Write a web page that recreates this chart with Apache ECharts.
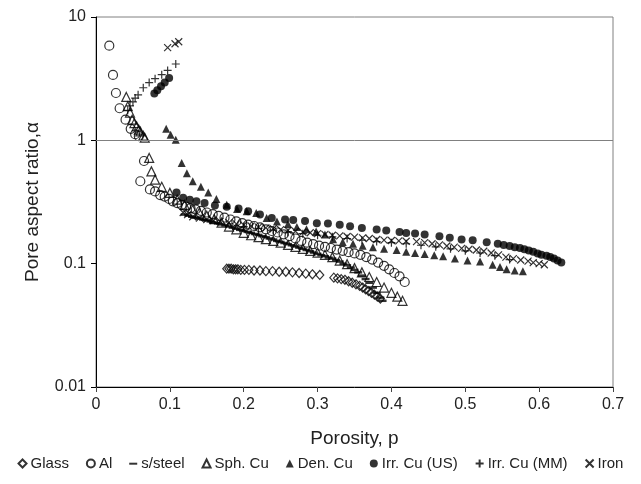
<!DOCTYPE html>
<html>
<head>
<meta charset="utf-8">
<script src="https://cdn.jsdelivr.net/npm/echarts@6/dist/echarts.min.js"></script>
<style>
  html, body { margin: 0; padding: 0; background: #fff; }
  #chart { width: 641px; height: 484px; }
</style>
</head>
<body>
<div id="chart"></div>
<script>
// porosity p, pore aspect ratio alpha
const glass = [
  [0.177, 0.091], [0.180, 0.091], [0.183, 0.091], [0.186, 0.090], [0.189, 0.090], [0.192, 0.090],
  [0.196, 0.089], [0.201, 0.089], [0.207, 0.089], [0.214, 0.088], [0.222, 0.088], [0.230, 0.087],
  [0.239, 0.087], [0.248, 0.086], [0.257, 0.086], [0.266, 0.085], [0.275, 0.084], [0.284, 0.083],
  [0.293, 0.082], [0.303, 0.081],
  [0.322, 0.077], [0.327, 0.076], [0.332, 0.075], [0.337, 0.074], [0.342, 0.072], [0.347, 0.070],
  [0.352, 0.068], [0.357, 0.066], [0.361, 0.064], [0.365, 0.062], [0.369, 0.060], [0.373, 0.058],
  [0.377, 0.056], [0.381, 0.054], [0.385, 0.052]
]
const al = [
  [0.018, 5.85], [0.023, 3.39], [0.027, 2.42], [0.032, 1.82], [0.040, 1.47], [0.047, 1.24],
  [0.053, 1.12], [0.058, 1.08], [0.065, 0.68],
  [0.060, 0.466], [0.073, 0.40], [0.080, 0.385], [0.087, 0.36], [0.093, 0.35], [0.099, 0.335],
  [0.104, 0.32], [0.110, 0.31], [0.116, 0.30], [0.122, 0.29], [0.128, 0.282], [0.135, 0.275],
  [0.142, 0.268], [0.150, 0.26], [0.158, 0.252], [0.166, 0.244], [0.174, 0.236], [0.182, 0.228],
  [0.190, 0.22], [0.198, 0.213], [0.206, 0.207], [0.214, 0.202], [0.222, 0.197], [0.230, 0.19],
  [0.238, 0.184], [0.246, 0.179], [0.254, 0.173], [0.262, 0.167], [0.270, 0.16], [0.278, 0.153],
  [0.286, 0.148], [0.294, 0.144], [0.302, 0.14], [0.310, 0.137], [0.318, 0.134], [0.326, 0.13],
  [0.334, 0.127], [0.342, 0.124], [0.350, 0.121], [0.358, 0.118], [0.366, 0.113], [0.374, 0.108],
  [0.382, 0.102], [0.390, 0.096], [0.397, 0.09], [0.404, 0.084], [0.411, 0.079], [0.418, 0.071]
]
const steel = [
  [0.120, 0.25], [0.125, 0.245], [0.130, 0.24], [0.135, 0.236], [0.140, 0.232], [0.145, 0.228],
  [0.150, 0.224], [0.155, 0.22], [0.160, 0.216], [0.165, 0.212], [0.170, 0.208], [0.175, 0.204],
  [0.180, 0.2], [0.185, 0.196], [0.190, 0.192], [0.195, 0.188], [0.200, 0.185], [0.205, 0.181],
  [0.210, 0.178], [0.215, 0.174], [0.220, 0.171], [0.225, 0.167], [0.230, 0.164], [0.235, 0.16],
  [0.240, 0.157], [0.245, 0.153], [0.250, 0.15], [0.255, 0.147], [0.260, 0.144], [0.265, 0.141],
  [0.270, 0.138], [0.275, 0.135], [0.280, 0.132], [0.285, 0.129], [0.290, 0.126], [0.295, 0.123],
  [0.300, 0.12], [0.305, 0.117], [0.310, 0.115], [0.315, 0.112], [0.320, 0.11], [0.325, 0.107],
  [0.330, 0.104], [0.335, 0.1], [0.340, 0.097], [0.345, 0.093], [0.350, 0.089], [0.355, 0.085],
  [0.360, 0.08], [0.365, 0.075], [0.370, 0.07], [0.375, 0.064], [0.380, 0.058], [0.385, 0.053],
  [0.388, 0.05]
]
const sphCu = [
  [0.041, 2.25], [0.043, 1.89], [0.046, 1.68], [0.049, 1.47], [0.052, 1.38], [0.055, 1.3],
  [0.058, 1.22], [0.060, 1.18], [0.064, 1.09], [0.066, 1.05], [0.072, 0.72], [0.075, 0.56],
  [0.080, 0.48], [0.089, 0.42], [0.100, 0.375], [0.110, 0.33], [0.120, 0.30], [0.130, 0.28],
  [0.140, 0.26], [0.150, 0.245], [0.160, 0.23], [0.170, 0.215], [0.180, 0.20], [0.190, 0.19],
  [0.200, 0.178], [0.210, 0.17], [0.220, 0.164], [0.230, 0.158], [0.240, 0.153], [0.250, 0.148],
  [0.260, 0.142], [0.270, 0.137], [0.280, 0.132], [0.290, 0.127], [0.300, 0.123], [0.310, 0.118],
  [0.320, 0.113], [0.330, 0.106], [0.340, 0.099], [0.350, 0.092], [0.360, 0.085], [0.370, 0.078],
  [0.380, 0.071], [0.390, 0.064], [0.400, 0.058], [0.408, 0.054], [0.415, 0.05]
]
const denCu = [
  [0.095, 1.24], [0.101, 1.11], [0.108, 1.01], [0.116, 0.655], [0.123, 0.54], [0.131, 0.466],
  [0.142, 0.42], [0.152, 0.377], [0.163, 0.335], [0.177, 0.30], [0.191, 0.278], [0.204, 0.266],
  [0.217, 0.258], [0.231, 0.235], [0.245, 0.22], [0.260, 0.21], [0.272, 0.198], [0.285, 0.19],
  [0.298, 0.182], [0.310, 0.172], [0.321, 0.158], [0.334, 0.15], [0.348, 0.145], [0.361, 0.14],
  [0.375, 0.136], [0.390, 0.132], [0.407, 0.129], [0.420, 0.125], [0.432, 0.122], [0.445, 0.12],
  [0.458, 0.117], [0.470, 0.115], [0.486, 0.11], [0.503, 0.106], [0.520, 0.104], [0.537, 0.098],
  [0.547, 0.094], [0.556, 0.09], [0.567, 0.088], [0.578, 0.087]
]
const irrCuUS = [
  [0.079, 2.4], [0.083, 2.55], [0.088, 2.75], [0.093, 2.95], [0.099, 3.2],
  [0.109, 0.377], [0.118, 0.343], [0.127, 0.33], [0.136, 0.32], [0.147, 0.31], [0.161, 0.296],
  [0.177, 0.29], [0.193, 0.28], [0.206, 0.266], [0.222, 0.25], [0.238, 0.235], [0.256, 0.228],
  [0.267, 0.226], [0.283, 0.222], [0.299, 0.213], [0.314, 0.212], [0.330, 0.207], [0.344, 0.201],
  [0.360, 0.195], [0.380, 0.189], [0.393, 0.186], [0.411, 0.181], [0.420, 0.177], [0.432, 0.176],
  [0.445, 0.172], [0.465, 0.167], [0.479, 0.162], [0.495, 0.157], [0.510, 0.155], [0.529, 0.149],
  [0.544, 0.145], [0.552, 0.142], [0.560, 0.139], [0.567, 0.136], [0.574, 0.134], [0.580, 0.131],
  [0.586, 0.128], [0.592, 0.125], [0.598, 0.121], [0.603, 0.118],
  [0.610, 0.116], [0.615, 0.113], [0.620, 0.11], [0.625, 0.106], [0.630, 0.102]
]
const irrCuMM = [
  [0.043, 1.75], [0.046, 1.9], [0.050, 2.05], [0.053, 2.2], [0.057, 2.34], [0.064, 2.67],
  [0.072, 2.94], [0.080, 3.16], [0.089, 3.41], [0.097, 3.69], [0.108, 4.16],
  [0.200, 0.2], [0.220, 0.193], [0.240, 0.187], [0.260, 0.18], [0.280, 0.175], [0.300, 0.17],
  [0.320, 0.165], [0.340, 0.16], [0.360, 0.155], [0.380, 0.151], [0.400, 0.148], [0.420, 0.145],
  [0.440, 0.141], [0.460, 0.137], [0.480, 0.132], [0.500, 0.127], [0.520, 0.122], [0.540, 0.116],
  [0.560, 0.108]
]
const iron = [
  [0.097, 5.64], [0.107, 6.07], [0.112, 6.3],
  [0.118, 0.26], [0.124, 0.25], [0.131, 0.24], [0.140, 0.234], [0.150, 0.228], [0.159, 0.224],
  [0.168, 0.22], [0.180, 0.215], [0.190, 0.21], [0.200, 0.206], [0.210, 0.202], [0.220, 0.198],
  [0.230, 0.195], [0.240, 0.192], [0.250, 0.189], [0.260, 0.186], [0.270, 0.183], [0.280, 0.18],
  [0.290, 0.178], [0.300, 0.175], [0.310, 0.173], [0.320, 0.17], [0.330, 0.168], [0.340, 0.166],
  [0.350, 0.164], [0.361, 0.162], [0.370, 0.16], [0.380, 0.157], [0.390, 0.155], [0.400, 0.154],
  [0.410, 0.153], [0.420, 0.152], [0.434, 0.151], [0.445, 0.148], [0.455, 0.145], [0.465, 0.142],
  [0.475, 0.139], [0.485, 0.136], [0.495, 0.133], [0.505, 0.131], [0.515, 0.129], [0.525, 0.126],
  [0.535, 0.122], [0.545, 0.118], [0.555, 0.113], [0.565, 0.11], [0.575, 0.107], [0.585, 0.105],
  [0.592, 0.102], [0.600, 0.1], [0.607, 0.098]
]

const names = ['Glass', 'Al', 's/steel', 'Sph. Cu', 'Den. Cu', 'Irr. Cu (US)', 'Irr. Cu (MM)', 'Iron']
const yTicks = [0.01, 0.1, 1, 10]

const font = 'Liberation Sans, Arial, Helvetica, sans-serif'
const PLUS = 'path://M0,5L10,5M5,0L5,10'
const CROSS = 'path://M0,0L10,10M10,0L0,10'
const DASH = 'path://M0,0L0,0M0,10L0,10M0,4L10,4L10,6.5L0,6.5Z'

const hollow = { color: 'rgba(0,0,0,0)', borderColor: '#000', borderWidth: 1.2 }
const solid = { color: '#000', borderWidth: 0 }

function sc (name, data, symbol, size, style) {
  return {
    name: name,
    type: 'scatter',
    data: data,
    symbol: symbol,
    symbolSize: size,
    itemStyle: style,
    silent: true,
    z: 3
  }
}

const series = [
  sc(names[0], glass, 'diamond', [8, 9], hollow),
  sc(names[1], al, 'circle', 9, hollow),
  sc(names[2], steel, 'rect', [8, 2.5], solid),
  sc(names[3], sphCu, 'triangle', 9, hollow),
  sc(names[4], denCu, 'triangle', 8, solid),
  sc(names[5], irrCuUS, 'circle', 8, solid),
  sc(names[6], irrCuMM, PLUS, 8, hollow),
  sc(names[7], iron, CROSS, 7, hollow)
]
// the reference line at alpha = 1
series[0].markLine = {
  silent: true,
  symbol: 'none',
  label: { show: false },
  lineStyle: { color: '#808080', width: 1, type: 'solid' },
  data: [{ yAxis: 1 }]
}

const chart = echarts.init(document.getElementById('chart'))
chart.setOption({
  animation: false,
  backgroundColor: '#fff',
  textStyle: { fontFamily: font },
  grid: {
    left: 96,
    right: 28,
    top: 17,
    bottom: 97,
    show: true,
    borderColor: '#808080',
    borderWidth: 1
  },
  xAxis: {
    type: 'value',
    min: 0,
    max: 0.7,
    interval: 0.1,
    name: 'Porosity, p',
    nameLocation: 'middle',
    nameGap: 42,
    nameTextStyle: { fontSize: 19, color: '#222', fontFamily: font },
    axisLine: { show: true, onZero: false, lineStyle: { color: '#000', width: 1 } },
    axisTick: { show: true, length: 5, lineStyle: { color: '#444' } },
    axisLabel: { fontSize: 16, color: '#222', margin: 10, fontFamily: font },
    splitLine: { show: false }
  },
  yAxis: {
    type: 'log',
    logBase: 10,
    min: yTicks[0],
    max: yTicks[yTicks.length - 1],
    name: 'Pore aspect ratio,α',
    nameLocation: 'middle',
    nameGap: 54,
    nameTextStyle: { fontSize: 19, color: '#222', fontFamily: font },
    axisLine: { show: true, lineStyle: { color: '#000', width: 1 } },
    axisTick: { show: true, length: 5, lineStyle: { color: '#000' } },
    axisLabel: {
      fontSize: 16,
      color: '#222',
      margin: 10,
      fontFamily: font,
      formatter: v => String(Number(v.toPrecision(3)))
    },
    minorTick: { show: false },
    splitLine: { show: false }
  },
  legend: {
    bottom: 8,
    left: 'center',
    itemWidth: 8,
    itemHeight: 8,
    itemGap: 17,
    textStyle: { fontSize: 15, color: '#222', fontFamily: font, padding: [0, 0, 0, -1] },
    data: names.map(n => n === 's/steel' ? { name: n, icon: DASH } : { name: n }),
    selectedMode: false
  },
  series: series
})
</script>
</body>
</html>
